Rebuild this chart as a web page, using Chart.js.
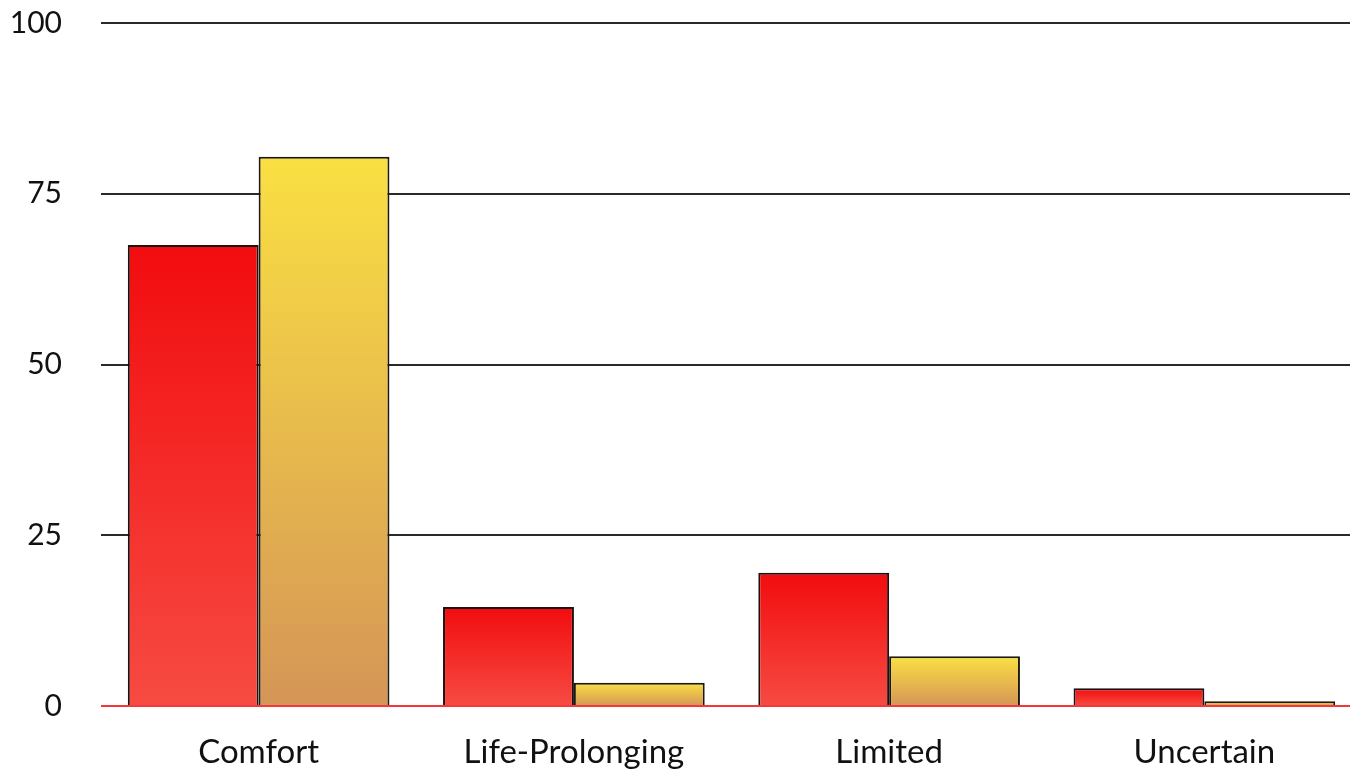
<!DOCTYPE html>
<html>
<head>
<meta charset="utf-8">
<script src="https://cdn.jsdelivr.net/npm/chart.js@4"></script>
<style>
  html, body { margin: 0; padding: 0; background: #fff; overflow: hidden; }
  #wrap { width: 1362px; height: 772px; }
</style>
</head>
<body>
<div id="wrap"><canvas id="myChart"></canvas></div>
<script>
var categories = ['Comfort', 'Life-Prolonging', 'Limited', 'Uncertain'];
var seriesRed = [67.5, 14.5, 19.5, 2.6];
var seriesYellow = [80.4, 3.4, 7.3, 0.7];
var yTicks = [0, 25, 50, 75, 100];

var ctx = document.getElementById('myChart').getContext('2d');

// vertical gradient per bar, from the bar top down to zero
function barGradient(topColor, bottomColor) {
    return function (context) {
        var chart = context.chart;
        if (!chart.chartArea || context.parsed == null) return topColor;
        var y = chart.scales.y;
        var top = y.getPixelForValue(context.parsed.y);
        var bottom = y.getPixelForValue(0);
        if (bottom - top < 1) return topColor;
        var g = chart.ctx.createLinearGradient(0, top, 0, bottom);
        g.addColorStop(0, topColor);
        g.addColorStop(1, bottomColor);
        return g;
    };
}

var chart = new Chart(ctx, {
    type: 'bar',
    data: {
        labels: categories,
        datasets: [{
            label: 'Series 1',
            data: seriesRed,
            backgroundColor: barGradient('#f20c0f', '#f64b42'),
            borderColor: '#1c1010',
            borderWidth: 2
        }, {
            label: 'Series 2',
            data: seriesYellow,
            backgroundColor: barGradient('#fae042', '#d59557'),
            borderColor: '#1c1a10',
            borderWidth: 2
        }]
    },
    options: {
        responsive: true,
        maintainAspectRatio: false,
        animation: false,
        layout: { padding: { top: 23, right: 0, left: 0, bottom: 0 } },
        datasets: {
            bar: { categoryPercentage: 0.83, barPercentage: 1.0 }
        },
        plugins: {
            legend: { display: false },
            tooltip: { enabled: false }
        },
        scales: {
            x: {
                grid: { display: false },
                border: { display: false },
                ticks: {
                    color: '#111',
                    padding: 19,
                    font: { family: 'Lato', size: 33 }
                },
                afterFit: function (scale) {
                    scale.height = 66;
                    scale.paddingLeft = 0;
                    scale.paddingRight = 0;
                }
            },
            y: {
                min: 0,
                max: 100,
                afterBuildTicks: function (scale) {
                    scale.ticks = yTicks.map(function (v) { return { value: v }; });
                },
                border: { display: false },
                grid: {
                    drawTicks: false,
                    lineWidth: 2,
                    color: function (c) {
                        return c.tick && c.tick.value === 0 ? '#f2383a' : '#2a2a2a';
                    }
                },
                ticks: {
                    color: '#111',
                    padding: 39,
                    font: { family: 'Lato', size: 30 }
                },
                afterFit: function (scale) {
                    scale.width = 101;
                    scale.paddingTop = 0;
                    scale.paddingBottom = 0;
                }
            }
        }
    }
});
</script>
</body>
</html>
